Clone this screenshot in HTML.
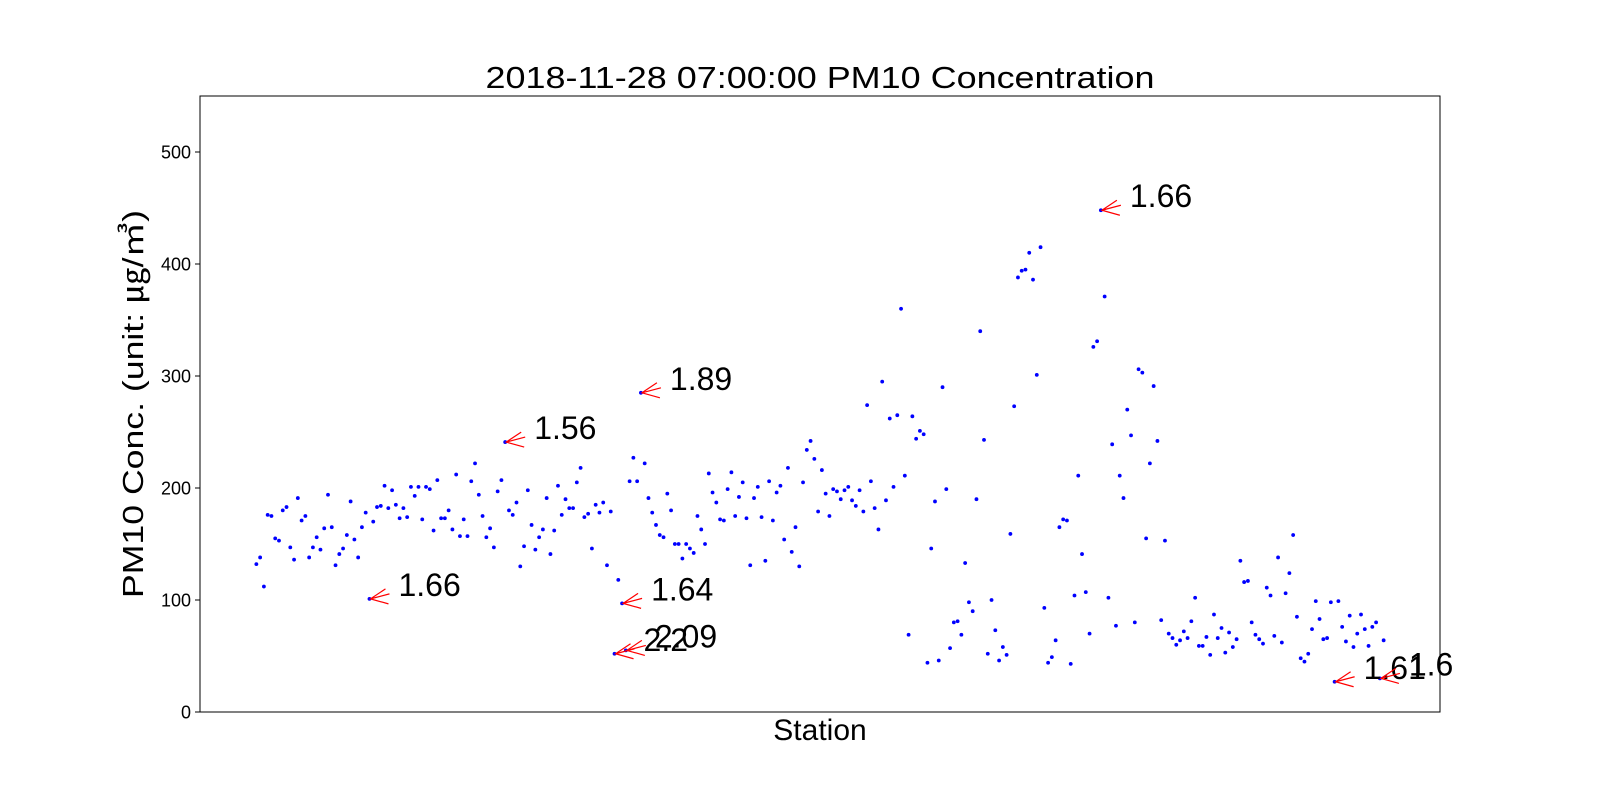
<!DOCTYPE html>
<html><head><meta charset="utf-8"><style>
html,body{margin:0;padding:0;background:#fff;}
svg{display:block;font-family:"Liberation Sans","Noto Sans CJK KR",sans-serif;}
</style></head><body>
<svg id="chart" width="1600" height="800" viewBox="0 0 1600 800" xmlns="http://www.w3.org/2000/svg">
<rect width="1600" height="800" fill="#fff"/>
<text x="820" y="88" font-size="31" text-anchor="middle" textLength="669" lengthAdjust="spacingAndGlyphs">2018-11-28 07:00:00 PM10 Concentration</text>
<g id="yticks"></g>
<g id="points"></g>
<g id="annots"></g>
<rect x="200" y="96" width="1240" height="616" fill="none" stroke="#000" stroke-width="1"/>
<text x="820" y="740" font-size="30" text-anchor="middle">Station</text>
<text transform="translate(143,404) rotate(-90)" font-size="29" text-anchor="middle" textLength="388" lengthAdjust="spacingAndGlyphs">PM10 Conc. (unit: ㎍/㎥)</text>
</svg>
<script>
const yTicks = [0, 100, 200, 300, 400, 500];
const values = [
132,138,112,176,175,155,153,180,183,147,136,191,171,175,138,147,156,145,164,194,165,131,141,146,158,188,154,138,165,178,101,170,183,184,202,182,198,185,173,182,174,201,193,201,172,201,199,162,207,173,173,180,163,212,157,172,157,206,222,194,175,156,164,147,197,207,241,180,176,187,130,148,198,167,145,156,
163,191,141,162,202,176,190,182,182,205,218,174,177,146,185,178,187,131,179,52,118,97,55,206,227,206,285,222,191,178,167,158,156,195,180,150,150,137,150,146,142,175,163,150,213,196,187,172,171,199,214,175,192,205,173,131,191,201,174,135,206,171,196,202,154,218,143,165,130,205,234,242,226,179,
216,195,175,199,197,190,198,201,189,184,198,179,274,206,182,163,295,189,262,201,265,360,211,69,264,244,251,248,44,146,188,46,290,199,57,80,81,69,133,98,90,190,340,243,52,100,73,46,58,51,159,273,388,394,395,410,386,301,415,93,44,49,64,165,172,171,43,104,211,141,107,70,326,331,
448,371,102,239,77,211,191,270,247,80,306,303,155,222,291,242,82,153,70,66,60,64,72,66,81,102,59,59,67,51,87,66,75,53,71,58,65,135,116,117,80,69,65,61,111,104,68,138,62,106,124,158,85,48,45,52,74,99,83,65,66,98,27,99,76,63,86,58,70,87,74,59,76,80,30,64
];
const annotValues = [101, 241, 285, 97, 52, 55, 448, 27, 30];
const annotLabels = ["1.66", "1.56", "1.89", "1.64", "2.2", "2.09", "1.66", "1.61", "1.6"];

const NS = "http://www.w3.org/2000/svg";
const L = 200, R = 1440, T = 96, B = 712, YMAX = 550;
const n = values.length;
const xr = (n - 1) * 0.05;
function xScale(i){ return L + (i + xr) / ((n - 1) + 2 * xr) * (R - L); }
function yScale(v){ return B - v / YMAX * (B - T); }

const yg = document.getElementById('yticks');
yTicks.forEach(t => {
  const y = yScale(t);
  const ln = document.createElementNS(NS, 'line');
  
  
  ln.setAttribute('x1', L - 5); ln.setAttribute('x2', L);
  ln.setAttribute('y1', y); ln.setAttribute('y2', y);
  ln.setAttribute('stroke', '#000');
  yg.appendChild(ln);
  const tx = document.createElementNS(NS, 'text');
  
  
  tx.setAttribute('x', L - 9); tx.setAttribute('y', y + 6.5);
  tx.setAttribute('font-size', '18'); tx.setAttribute('text-anchor', 'end');
  tx.textContent = t;
  yg.appendChild(tx);
});

const pg = document.getElementById('points');
values.forEach((v, i) => {
  const c = document.createElementNS(NS, 'circle');
  
  
  c.setAttribute('cx', xScale(i)); c.setAttribute('cy', yScale(v));
  c.setAttribute('r', '1.9'); c.setAttribute('fill', '#0000ff');
  pg.appendChild(c);
});

const ag = document.getElementById('annots');
annotValues.forEach((v, k) => {
  const i = values.indexOf(v);
  if (i < 0) return;
  const px = xScale(i), py = yScale(v);
  const g = document.createElementNS(NS, 'g');
  
  
  const p = document.createElementNS(NS, 'path');
  
  
  const ex = px + 20, ey = py - 5;
  p.setAttribute('d', `M${ex},${ey} L${px+1},${py} M${px+16},${py-10} L${px+1},${py} L${px+19},${py+5}`);
  p.setAttribute('stroke', '#ff0000'); p.setAttribute('stroke-width', '1.2'); p.setAttribute('fill', 'none');
  g.appendChild(p);
  const t = document.createElementNS(NS, 'text');
  
  
  t.setAttribute('x', px + 29); t.setAttribute('y', py - 3);
  t.setAttribute('font-size', '32');
  t.textContent = annotLabels[k];
  g.appendChild(t);
  ag.appendChild(g);
});
</script>
</body></html>
